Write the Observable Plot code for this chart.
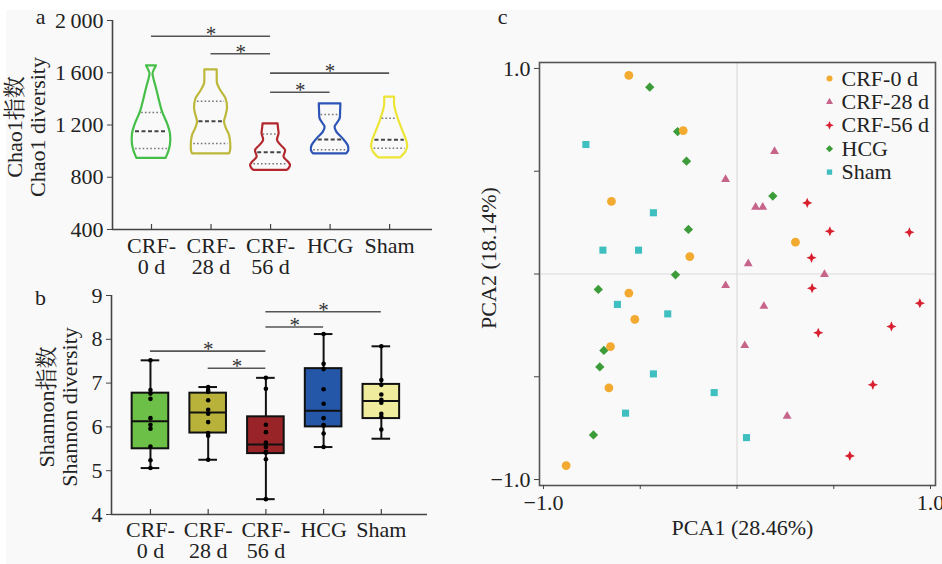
<!DOCTYPE html>
<html><head><meta charset="utf-8">
<script src="https://cdn.jsdelivr.net/npm/d3@7"></script>
<script src="https://cdn.jsdelivr.net/npm/@observablehq/plot@0.6"></script>
<style>
body{margin:0;background:#fff;}
#wrap{position:relative;width:942px;height:564px;background:#fff;overflow:hidden}
#bg{position:absolute;left:6px;top:10px;width:936px;height:554px;background:#f9f9f9}
.panel{position:absolute}
svg{overflow:visible}
</style></head><body>
<div id="wrap"><div id="bg"></div>
<div class="panel" id="pa" style="left:0;top:0"></div>
<div class="panel" id="pb" style="left:0;top:280px"></div>
<div class="panel" id="pc" style="left:470px;top:0"></div>
</div>
<script>
// ---------- shared ----------
const groups = ["CRF-0 d", "CRF-28 d", "CRF-56 d", "HCG", "Sham"];
const groupTickLabels = ["CRF-\n0 d", "CRF-\n28 d", "CRF-\n56 d", "HCG", "Sham"];

// ---------- panel a: Chao1 violins ----------
const chaoTicks = [400, 800, 1200, 1600, 2000];
const chaoTickLabels = ["400", "800", "1\u2009200", "1\u2009600", "2\u2009000"];
// violin profiles: [Chao1 value, half-width density]
const violinCRF0 = [[1653,5],[1645,4.5],[1615,2.5],[1590,1.5],[1550,2.5],[1480,5],[1400,7.5],[1300,11],[1200,16.5],[1130,19],[1050,19],[1000,17.5],[960,15.5],[944,14.5]];
const violinCRF28 = [[1622,6.2],[1560,6.2],[1515,6.5],[1460,10],[1400,15],[1330,16.5],[1270,15],[1222,13.5],[1170,15.5],[1120,18.5],[1056,19.7],[1000,19.5],[979,18.5]];
const violinCRF56 = [[1209,7.5],[1170,8],[1132,8.5],[1081,7],[1040,11],[1005,15],[953,13.5],[915,18],[890,20],[865,18.5],[852,16.5]];
const violinHCG = [[1362,10.8],[1300,10.5],[1247,10],[1210,7],[1183,5],[1145,6.7],[1094,13],[1043,18],[1005,18.7],[979,16.7]];
const violinSham = [[1413,5],[1350,5],[1300,6.5],[1240,9],[1183,11.7],[1120,15],[1081,17],[1030,18],[990,16],[960,12.5],[949,11]];
const chaoQ1 = [1020, 1058, 903, 1010, 1022];
const chaoMedian = [1153, 1229, 992, 1089, 1087];
const chaoQ3 = [1296, 1382, 1131, 1280, 1252];
const chaoSigFrom = [1, 2, 3, 3];
const chaoSigTo = [3, 3, 5, 4];
const chaoSigY = [1880, 1745, 1597, 1451];

// ---------- panel b: Shannon boxes ----------
const shannonTicks = [4, 5, 6, 7, 8, 9];
const shannonTickLabels = ["4", "5", "6", "7", "8", "9"];
const shannonMin = [5.06, 5.25, 4.35, 5.54, 5.73];
const shannonQ1 = [5.50, 5.86, 5.39, 6.00, 6.19];
const shannonMedian = [6.13, 6.33, 5.60, 6.37, 6.59];
const shannonQ3 = [6.77, 6.77, 6.23, 7.33, 6.97];
const shannonMax = [7.52, 6.91, 7.12, 8.12, 7.84];
const shannonPointsCRF0 = [7.52, 6.84, 6.76, 6.64, 6.20, 6.05, 5.96, 5.55, 5.24, 5.06];
const shannonPointsCRF28 = [6.91, 6.84, 6.80, 6.61, 6.39, 6.30, 6.11, 5.86, 5.80, 5.25];
const shannonPointsCRF56 = [7.12, 6.87, 6.05, 5.88, 5.64, 5.54, 5.43, 5.41, 5.26, 4.35];
const shannonPointsHCG = [8.12, 7.44, 7.32, 6.86, 6.53, 6.20, 6.04, 6.03, 5.85, 5.54];
const shannonPointsSham = [7.84, 7.07, 6.96, 6.74, 6.62, 6.55, 6.30, 6.23, 5.94];
const shannonSigFrom = [1, 2, 3, 3];
const shannonSigTo = [3, 3, 4, 5];
const shannonSigY = [7.73, 7.34, 8.28, 8.63];

// ---------- panel c: PCA ----------
const pcaTicks = [-1, -0.5, 0, 0.5, 1];
const pcaTickLabels = ["\u22121.0", "", "", "", "1.0"];
const pcaCRF0X = [-0.559,-0.278,-0.649,0.302,-0.244,-0.559,-0.528,-0.654,-0.662,-0.883];
const pcaCRF0Y = [0.966,0.698,0.353,0.155,0.085,-0.093,-0.221,-0.353,-0.554,-0.932];
const pcaCRF28X = [0.194,-0.059,0.096,0.133,0.058,0.452,-0.059,0.139,0.040,0.259];
const pcaCRF28Y = [0.596,0.460,0.325,0.325,0.050,-0.002,-0.056,-0.157,-0.348,-0.692];
const pcaCRF56X = [0.363,0.480,0.891,0.385,0.388,0.945,0.798,0.420,0.702,0.583];
const pcaCRF56Y = [0.346,0.208,0.203,0.079,-0.069,-0.142,-0.255,-0.286,-0.539,-0.885];
const pcaHCGX = [-0.451,-0.307,-0.261,0.185,-0.251,-0.318,-0.717,-0.688,-0.709,-0.742];
const pcaHCGY = [0.909,0.693,0.549,0.379,0.217,-0.004,-0.075,-0.372,-0.452,-0.783];
const pcaShamX = [-0.781,-0.432,-0.693,-0.509,-0.618,-0.358,-0.432,-0.118,-0.576,0.049];
const pcaShamY = [0.630,0.298,0.116,0.116,-0.148,-0.194,-0.486,-0.577,-0.677,-0.796];

// ---------- styles ----------
const FONT = "'Liberation Serif','Times New Roman','Noto Serif CJK SC','Noto Sans CJK SC',serif";
const FS = 22;
const violinColors = ["#45bf48", "#bdb83a", "#b3282d", "#2c54b6", "#ece536"];
const boxColors = ["#6cbf47", "#b8b23a", "#982428", "#2457a8", "#efec9d"];
const pcaColors = ["#f3aa30", "#c7648a", "#d8202e", "#3d9c3a", "#3fbfbf"];
const AX = "#444";
const baseStyle = {fontFamily: FONT, fontSize: FS + "px", color: "#222", background: "transparent", overflow: "visible"};

// ================= panel a =================
{
  const profiles = [violinCRF0, violinCRF28, violinCRF56, violinHCG, violinSham];
  const xDom = [0.345, 5.72];
  const W = 470, H = 280, mL = 112, mR = 38, mT = 20, mB = 51;
  const unit = (W - mL - mR) / (xDom[1] - xDom[0]);
  const rows = groups.flatMap((g, gi) => profiles[gi].map(([v, w]) => ({g, i: gi + 1, v, w})));
  const widthAt = (p, v) => {
    for (let k = 0; k < p.length - 1; k++) {
      const [a, wa] = p[k], [b, wb] = p[k + 1];
      if (v <= a && v >= b) return wa + (wb - wa) * (a - v) / (a - b);
    }
    return p[p.length - 1][1];
  };
  const qRows = groups.flatMap((g, gi) => [["q1", chaoQ1[gi]], ["med", chaoMedian[gi]], ["q3", chaoQ3[gi]]]
    .map(([k, v]) => ({g, i: gi + 1, k, v, w: widthAt(profiles[gi], v) * 0.88})));
  const sig = chaoSigY.map((y, k) => ({from: chaoSigFrom[k], to: chaoSigTo[k], y}));
  const plot = Plot.plot({
    width: W, height: H, marginLeft: mL, marginRight: mR, marginTop: mT, marginBottom: mB,
    style: baseStyle,
    x: {domain: xDom},
    y: {domain: [400, 2000]},
    color: {domain: groups, range: violinColors},
    marks: [
      Plot.areaX(rows, {y: "v", x1: d => d.i - d.w / unit, x2: d => d.i + d.w / unit, z: "g", fill: "none", stroke: "g", strokeWidth: 2.2, strokeLinejoin: "round", curve: "catmull-rom"}),
      Plot.ruleY(qRows.filter(d => d.k !== "med"), {y: "v", x1: d => d.i - d.w / unit, x2: d => d.i + d.w / unit, stroke: "#777", strokeWidth: 1.4, strokeDasharray: "1.6,2.2"}),
      Plot.ruleY(qRows.filter(d => d.k === "med"), {y: "v", x1: d => d.i - d.w / unit, x2: d => d.i + d.w / unit, stroke: "#444", strokeWidth: 2, strokeDasharray: "4,2.5"}),
      Plot.ruleY(sig, {y: "y", x1: "from", x2: "to", stroke: "#555", strokeWidth: 1.6}),
      Plot.text(sig, {x: d => (d.from + d.to) / 2, y: "y", text: () => "*", lineAnchor: "bottom", dy: 5, fontSize: 21, fill: "#333"}),
      Plot.axisY({ticks: chaoTicks, tickFormat: d => chaoTickLabels[chaoTicks.indexOf(d)], tickSize: 5, tickPadding: 4, label: null, stroke: AX}),
      Plot.axisX({ticks: [1, 2, 3, 4, 5], tickFormat: d => groupTickLabels[d - 1], tickSize: 0, tickPadding: 9, lineHeight: 0.95, label: null}),
      Plot.ruleX([1, 2, 3, 4, 5], {insetTop: H - mT - mB - 5, stroke: AX, strokeWidth: 1.2}),
      Plot.ruleX([xDom[0]], {stroke: AX, strokeWidth: 1.6}),
      Plot.ruleY([400], {stroke: AX, strokeWidth: 1.6}),
      Plot.text(["Chao1指数\nChao1 diversity"], {frameAnchor: "left", dx: -86, dy: 2, rotate: -90, textAnchor: "middle", lineAnchor: "middle", lineHeight: 1.05, fontSize: FS, fill: "#222"}),
      Plot.text(["a"], {frameAnchor: "top-left", dx: -72, dy: -4, textAnchor: "middle", lineAnchor: "middle", fontSize: FS, fill: "#222"})
    ]
  });
  document.getElementById("pa").append(plot);
}

// ================= panel b =================
{
  const points = [shannonPointsCRF0, shannonPointsCRF28, shannonPointsCRF56, shannonPointsHCG, shannonPointsSham];
  const xDom = [0.325, 5.80];
  const W = 470, H = 284, mL = 111, mR = 43, mT = 15, mB = 50;
  const unit = (W - mL - mR) / (xDom[1] - xDom[0]);
  const bw = 18.3 / unit, cw = 9.3 / unit;
  const stats = groups.map((g, gi) => ({g, i: gi + 1, min: shannonMin[gi], q1: shannonQ1[gi], med: shannonMedian[gi], q3: shannonQ3[gi], max: shannonMax[gi]}));
  const dots = groups.flatMap((g, gi) => points[gi].map(v => ({g, i: gi + 1, v})));
  const sig = shannonSigY.map((y, k) => ({from: shannonSigFrom[k], to: shannonSigTo[k], y}));
  const plot = Plot.plot({
    width: W, height: H, marginLeft: mL, marginRight: mR, marginTop: mT, marginBottom: mB,
    style: baseStyle,
    x: {domain: xDom},
    y: {domain: [4, 9]},
    color: {domain: groups, range: boxColors},
    marks: [
      Plot.ruleX(stats, {x: "i", y1: "min", y2: "q1", stroke: "#111", strokeWidth: 2}),
      Plot.ruleX(stats, {x: "i", y1: "q3", y2: "max", stroke: "#111", strokeWidth: 2}),
      Plot.ruleY(stats, {y: "min", x1: d => d.i - cw, x2: d => d.i + cw, stroke: "#111", strokeWidth: 2}),
      Plot.ruleY(stats, {y: "max", x1: d => d.i - cw, x2: d => d.i + cw, stroke: "#111", strokeWidth: 2}),
      Plot.rect(stats, {x1: d => d.i - bw, x2: d => d.i + bw, y1: "q1", y2: "q3", fill: "g", stroke: "#111", strokeWidth: 2}),
      Plot.ruleY(stats, {y: "med", x1: d => d.i - bw, x2: d => d.i + bw, stroke: "#111", strokeWidth: 2}),
      Plot.dot(dots, {x: "i", y: "v", r: 2.3, fill: "#000"}),
      Plot.ruleY(sig, {y: "y", x1: "from", x2: "to", stroke: "#555", strokeWidth: 1.6}),
      Plot.text(sig, {x: d => (d.from + d.to) / 2, y: "y", text: () => "*", lineAnchor: "bottom", dy: 5, fontSize: 21, fill: "#333"}),
      Plot.axisY({ticks: shannonTicks, tickFormat: d => shannonTickLabels[shannonTicks.indexOf(d)], tickSize: 5, tickPadding: 4, label: null, stroke: AX}),
      Plot.axisX({ticks: [1, 2, 3, 4, 5], tickFormat: d => groupTickLabels[d - 1], tickSize: 0, tickPadding: 8, lineHeight: 0.95, label: null}),
      Plot.ruleX([1, 2, 3, 4, 5], {insetTop: H - mT - mB - 5, stroke: AX, strokeWidth: 1.2}),
      Plot.ruleX([xDom[0]], {stroke: AX, strokeWidth: 1.6}),
      Plot.ruleY([4], {stroke: AX, strokeWidth: 1.6}),
      Plot.text(["Shannon指数\nShannon diversity"], {frameAnchor: "left", dx: -53, dy: 2, rotate: -90, textAnchor: "middle", lineAnchor: "middle", lineHeight: 1.05, fontSize: FS, fill: "#222"}),
      Plot.text(["b"], {frameAnchor: "top-left", dx: -71, dy: 2, textAnchor: "middle", lineAnchor: "middle", fontSize: FS, fill: "#222"})
    ]
  });
  document.getElementById("pb").append(plot);
}

// ================= panel c =================
{
  const star4 = {
    draw(context, size) {
      const R = Math.sqrt(size / Math.PI) * 1.55, r0 = R * 0.3;
      context.moveTo(0, -R); context.lineTo(r0, -r0); context.lineTo(R, 0); context.lineTo(r0, r0);
      context.lineTo(0, R); context.lineTo(-r0, r0); context.lineTo(-R, 0); context.lineTo(-r0, -r0); context.closePath();
    }
  };
  const xs = [pcaCRF0X, pcaCRF28X, pcaCRF56X, pcaHCGX, pcaShamX];
  const ys = [pcaCRF0Y, pcaCRF28Y, pcaCRF56Y, pcaHCGY, pcaShamY];
  const symbols = ["circle", "triangle", star4, "diamond2", "square"];
  const radii = [4.4, 3.3, 3.3, 4.2, 4.0];
  const legendRadii = [3.0, 2.6, 2.8, 3.2, 3.0];
  const W = 472, H = 564, mL = 69, mR = 7, mT = 62, mB = 79;
  const pts = groups.map((g, gi) => xs[gi].map((x, k) => ({g, x, y: ys[gi][k]})));
  const order = [4, 3, 2, 1, 0];
  const plot = Plot.plot({
    width: W, height: H, marginLeft: mL, marginRight: mR, marginTop: mT, marginBottom: mB,
    style: baseStyle,
    x: {domain: [-1.0207, 1.0258]},
    y: {domain: [-1.029, 1.029]},
    marks: [
      Plot.ruleX([0], {stroke: "#dcdcdc", strokeWidth: 1.2}),
      Plot.ruleY([0], {stroke: "#dcdcdc", strokeWidth: 1.2}),
      ...order.map(gi => Plot.dot(pts[gi], {x: "x", y: "y", r: radii[gi], symbol: () => symbols[gi], fill: pcaColors[gi], stroke: "none"})),
      Plot.frame({stroke: "#555", strokeWidth: 1.6}),
      Plot.axisY({ticks: pcaTicks, tickFormat: d => pcaTickLabels[pcaTicks.indexOf(d)], tickSize: 5, tickPadding: 4, label: null, stroke: AX}),
      Plot.axisX({ticks: pcaTicks, tickFormat: d => pcaTickLabels[pcaTicks.indexOf(d)], tickSize: 4, tickPadding: 5, label: null, stroke: AX}),
      ...groups.map((g, gi) => Plot.dot([g], {frameAnchor: "top-left", dx: 290, dy: 16 + gi * 23.4, r: legendRadii[gi], symbol: () => symbols[gi], fill: pcaColors[gi], stroke: "none"})),
      ...groups.map((g, gi) => Plot.text([g], {frameAnchor: "top-left", dx: 302, dy: 16 + gi * 23.4, textAnchor: "start", lineAnchor: "middle", fontSize: FS, fill: "#222"})),
      Plot.text(["PCA1 (28.46%)"], {frameAnchor: "bottom", dx: 5, dy: 42, textAnchor: "middle", lineAnchor: "middle", fontSize: FS, fill: "#222"}),
      Plot.text(["PCA2 (18.14%)"], {frameAnchor: "left", dx: -51, dy: -16, rotate: -90, textAnchor: "middle", lineAnchor: "middle", fontSize: FS, fill: "#222"}),
      Plot.text(["c"], {frameAnchor: "top-left", dx: -37, dy: -46, textAnchor: "middle", lineAnchor: "middle", fontSize: FS, fill: "#222"})
    ]
  });
  document.getElementById("pc").append(plot);
}
</script>
</body></html>
